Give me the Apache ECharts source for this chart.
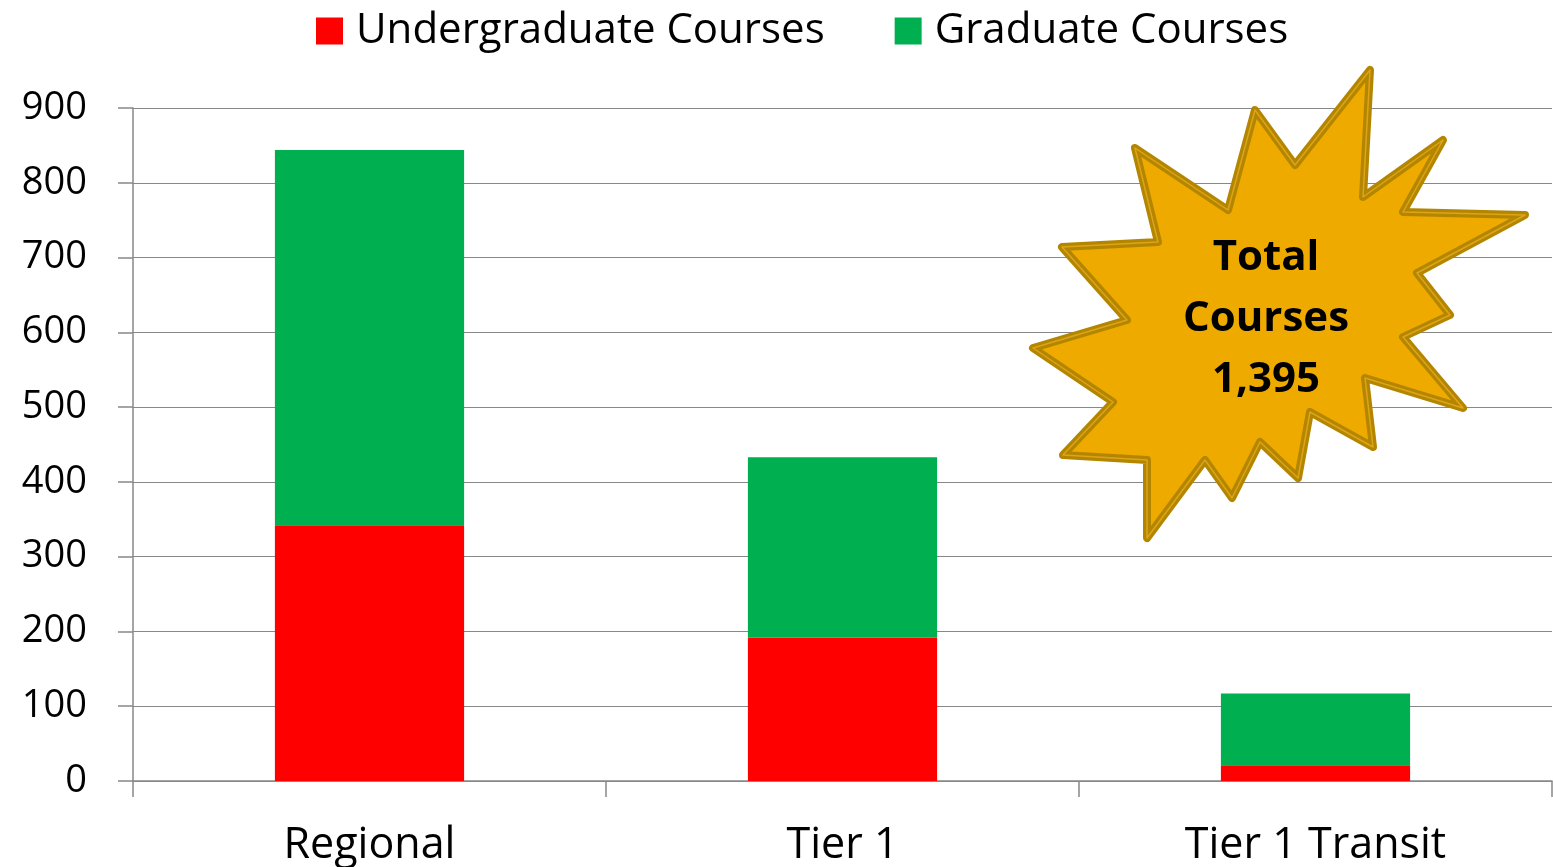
<!DOCTYPE html>
<html><head><meta charset="utf-8">
<script src="https://cdn.jsdelivr.net/npm/echarts@6/dist/echarts.min.js"></script>
<style>html,body{margin:0;padding:0;background:#fff}#c{width:1553px;height:867px}</style>
</head><body><div id="c"></div>
<script>
const categories = ['Regional', 'Tier 1', 'Tier 1 Transit'];
const undergraduate = [342, 192, 21];
const graduate = [502, 241, 96];
const seriesNames = ['Undergraduate Courses', 'Graduate Courses'];
const totalLabel = ['Total', 'Courses', '1,395'];
const FONT = '"Open Sans", sans-serif';

const starPts = [[1370,70],[1363,197],[1443,140],[1403,212],[1525,215],[1417,273],[1450,315],[1403,337],[1463,408],[1365,378],[1373,447],[1310,412],[1298,478],[1260,442],[1232,498],[1205,460],[1147,538],[1147,460],[1063,455],[1113,402],[1033,348],[1127,320],[1062,247],[1158,242],[1135,148],[1228,210],[1255,110],[1295,165]];

const chart = echarts.init(document.getElementById('c'));
chart.setOption({
  animation: false,
  legend: {
    top: 5, left: 311, itemWidth: 27, itemHeight: 27, itemGap: 70,
    icon: 'rect',
    textStyle: { fontSize: 42, fontFamily: FONT, color: '#000', padding: [0, 0, 0, 8] },
    data: seriesNames
  },
  grid: { left: 133, right: 1, top: 108, bottom: 86 },
  xAxis: {
    type: 'category', data: categories,
    axisLine: { lineStyle: { color: '#888', width: 1.5 } },
    axisTick: { show: true, length: 16, lineStyle: { color: '#888', width: 1.5 } },
    axisLabel: { fontSize: 43, fontFamily: FONT, color: '#000', margin: 43 }
  },
  yAxis: {
    type: 'value', min: 0, max: 900, interval: 100,
    axisLine: { show: true, lineStyle: { color: '#888', width: 1.5 } },
    axisTick: { show: true, length: 15, lineStyle: { color: '#888', width: 1.5 } },
    axisLabel: { fontSize: 38, fontFamily: FONT, color: '#000', margin: 46, padding: [12, 0, 0, 0] },
    splitLine: { lineStyle: { color: '#888', width: 1.2 } }
  },
  series: [
    { name: seriesNames[0], type: 'bar', stack: 't', data: undergraduate, barWidth: '40%', itemStyle: { color: '#FF0000' } },
    { name: seriesNames[1], type: 'bar', stack: 't', data: graduate, barWidth: '40%', itemStyle: { color: '#00B050' } }
  ],
  graphic: [
    { type: 'polygon', shape: { points: starPts }, style: { fill: '#EFAA00', stroke: '#B48600', lineWidth: 8, lineJoin: 'round' }, z: 100 },
    { type: 'polygon', shape: { points: starPts }, style: { fill: 'none', stroke: '#DDA418', lineWidth: 1.5, lineJoin: 'round' }, z: 101 },
    { type: 'text', x: 1266, y: 319, z: 102,
      style: { text: totalLabel.join('\n'), fill: '#000', font: 'bold 42px ' + FONT, align: 'center', verticalAlign: 'middle', lineHeight: 61 } }
  ]
});
</script></body></html>
